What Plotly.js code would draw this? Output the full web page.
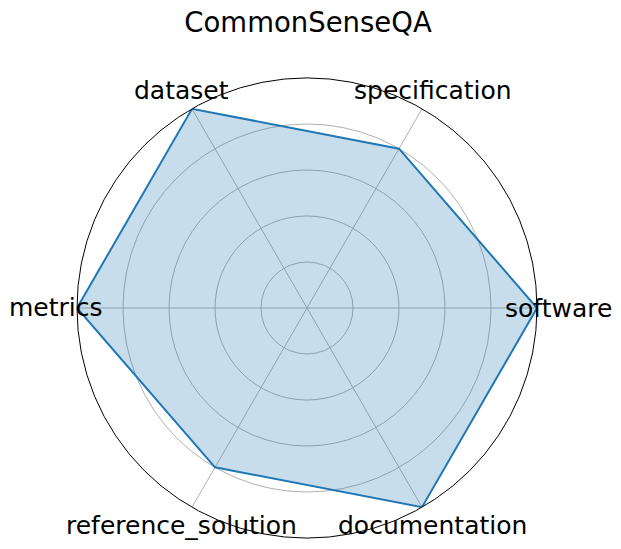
<!DOCTYPE html>
<html>
<head>
<meta charset="utf-8">
<script src="https://cdn.plot.ly/plotly-3.0.1.min.js"></script>
<style>html,body{margin:0;padding:0;background:#fff;}#chart{width:621px;height:549px;}</style>
</head>
<body>
<div id="chart"></div>
<script>
var categories = ["software", "specification", "dataset", "metrics", "reference_solution", "documentation"];
var values = [1.0, 0.8, 1.0, 1.0, 0.8, 1.0];
var radialTicks = [0.2, 0.4, 0.6, 0.8, 1.0];
var chartTitle = "CommonSenseQA";

var W = 621, H = 549;
var cx = 307, cy = 308, R = 230, labelR = 251;

var theta = categories.concat([categories[0]]);
var r = values.concat([values[0]]);

var trace = {
  type: "scatterpolar",
  r: r,
  theta: theta,
  mode: "lines",
  fill: "toself",
  fillcolor: "rgba(31,119,180,0.25)",
  line: {color: "#1f77b4", width: 2},
  hoverinfo: "skip"
};

var annotations = categories.map(function (c, i) {
  var a = i * 2 * Math.PI / categories.length;
  var px = cx + labelR * Math.cos(a);
  var py = cy - labelR * Math.sin(a);
  return {
    text: c, xref: "paper", yref: "paper",
    x: px / W, y: 1 - py / H,
    xanchor: "center", yanchor: "middle",
    showarrow: false,
    font: {size: 25, family: "DejaVu Sans", color: "#000"}
  };
});

var layout = {
  width: W,
  height: H,
  margin: {l: 0, r: 0, t: 0, b: 0},
  paper_bgcolor: "#fff",
  showlegend: false,
  font: {family: "DejaVu Sans", color: "#000"},
  title: {text: chartTitle, x: 0.496, xanchor: "center", y: 0.96, yanchor: "middle", font: {size: 27.5, family: "DejaVu Sans"}},
  annotations: annotations,
  polar: {
    domain: {x: [(cx - R) / W, (cx + R) / W], y: [1 - (cy + R) / H, 1 - (cy - R) / H]},
    bgcolor: "#fff",
    radialaxis: {
      range: [0, 1],
      tickvals: radialTicks,
      showticklabels: false,
      ticks: "",
      showline: false,
      gridcolor: "#b0b0b0",
      gridwidth: 1
    },
    angularaxis: {
      type: "category",
      categoryarray: categories,
      direction: "counterclockwise",
      rotation: 0,
      ticks: "",
      showticklabels: false,
      showline: true,
      linecolor: "#000",
      linewidth: 1,
      gridcolor: "#b0b0b0",
      gridwidth: 1
    }
  }
};

Plotly.newPlot("chart", [trace], layout, {staticPlot: true, displayModeBar: false});
</script>
</body>
</html>
